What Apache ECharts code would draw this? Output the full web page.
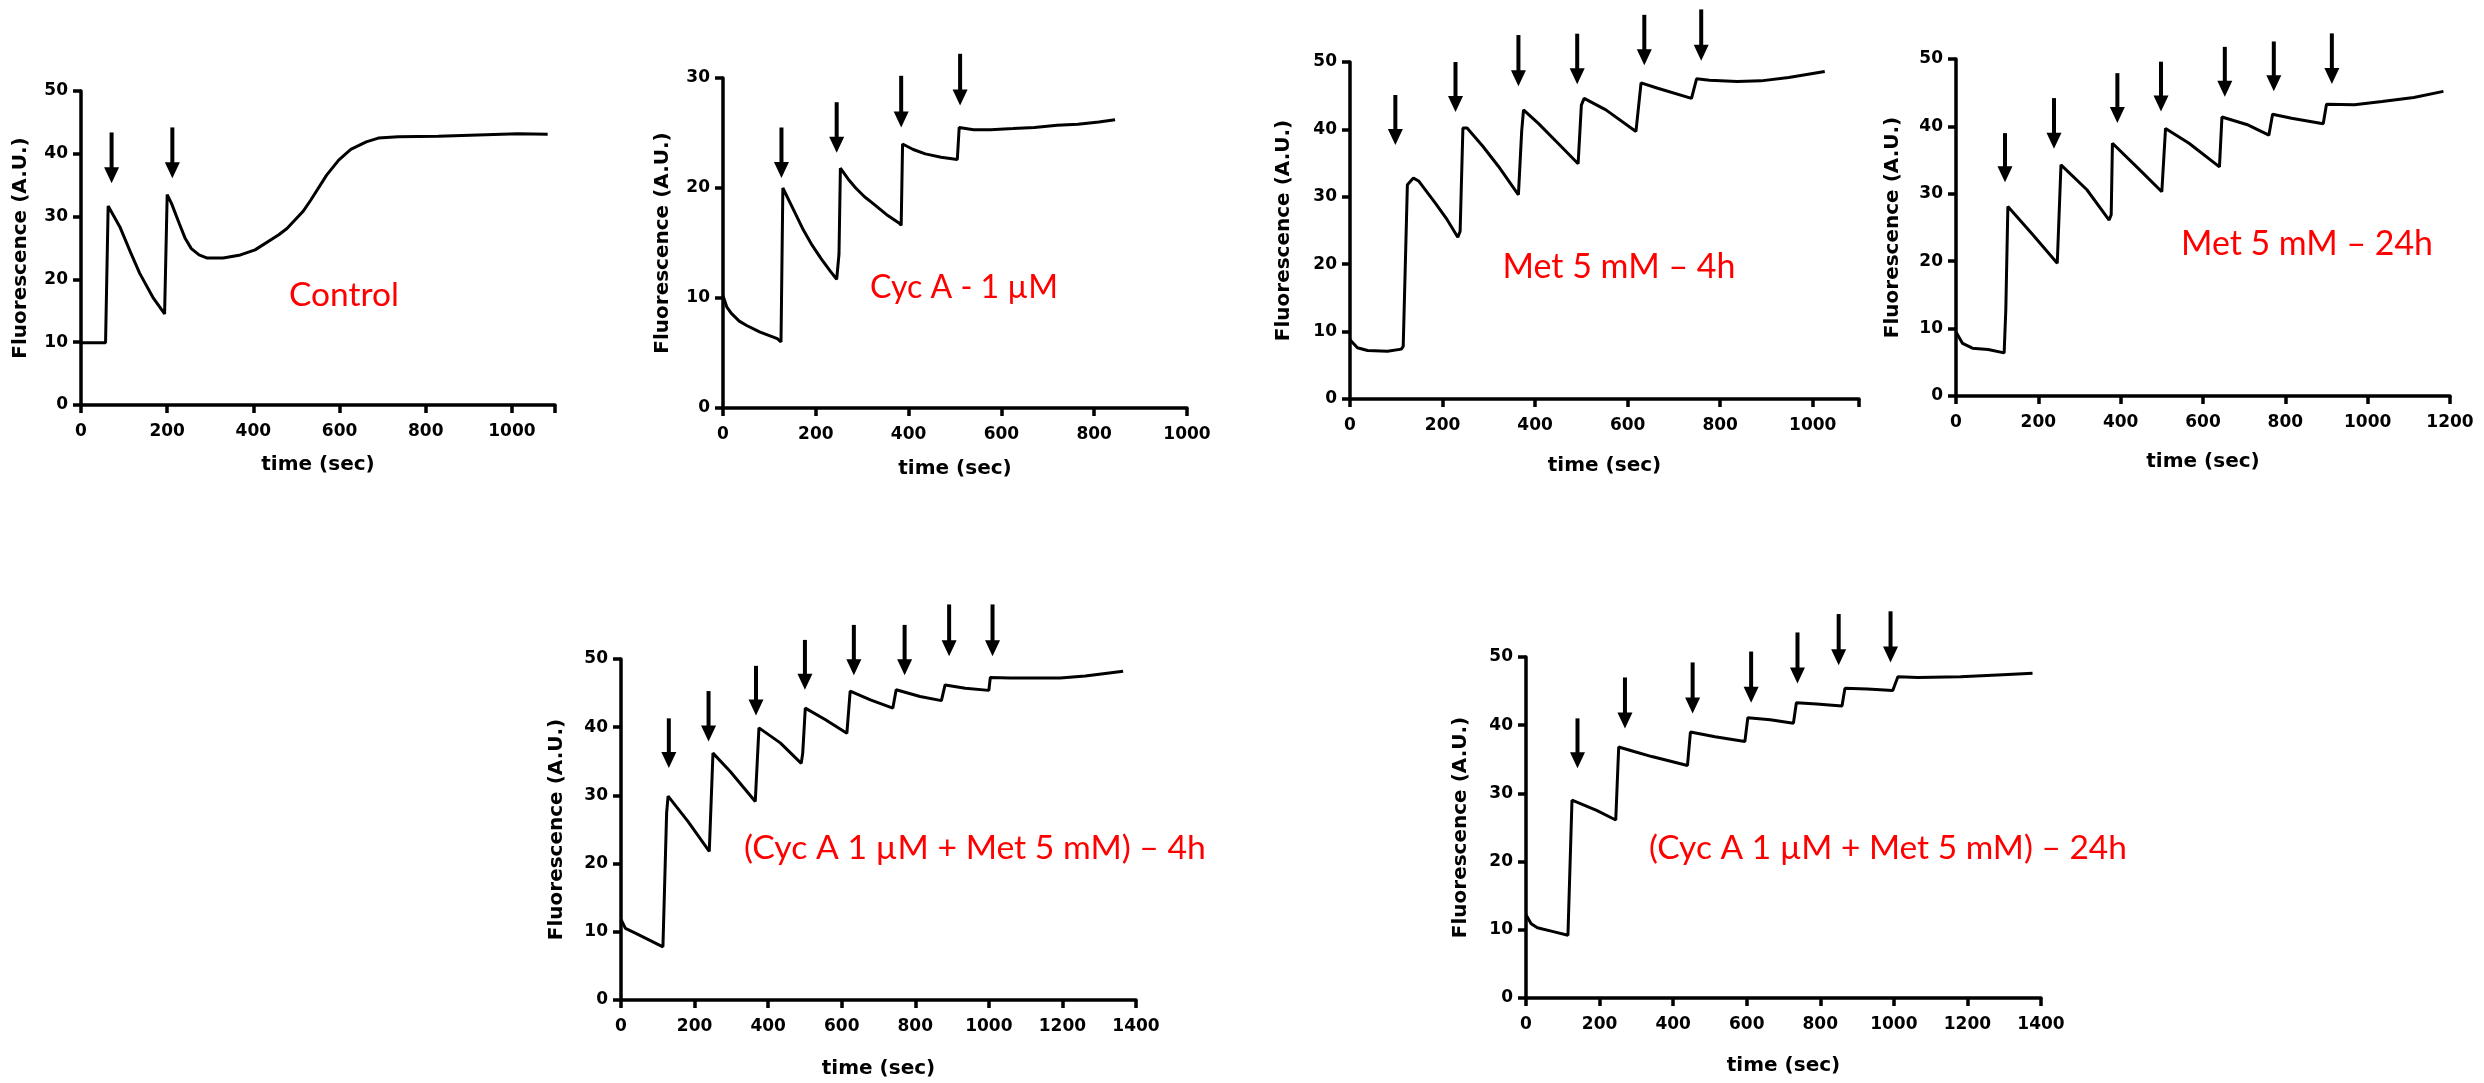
<!DOCTYPE html>
<html>
<head>
<meta charset="utf-8">
<script src="https://cdn.jsdelivr.net/npm/echarts@6/dist/echarts.min.js"></script>
<style>
html, body { margin: 0; background: #fff; }
#chart { width: 2484px; height: 1083px; }
</style>
</head>
<body>
<div id="chart"></div>
<script>
// values (time in sec, fluorescence in A.U.)
const controlTime = [0, 57, 63, 90, 115, 136, 168, 194, 200, 210, 228, 242, 256, 274, 293, 330, 370, 404, 459, 478, 515, 533, 570, 598, 626, 662, 690, 736, 829, 921, 1014, 1083]
const controlFluo = [9.9, 9.9, 31.7, 28.4, 24.3, 21.0, 17.0, 14.5, 33.5, 32.1, 28.9, 26.5, 24.9, 23.9, 23.4, 23.4, 23.9, 24.7, 27.1, 28.1, 30.8, 32.6, 36.6, 39.0, 40.7, 41.9, 42.5, 42.7, 42.8, 43.0, 43.2, 43.1]
const controlArrowTime = [71, 212]
const controlArrowTop = [43.4, 44.2]
const controlArrowTip = [35.3, 36.1]

const cycTime = [0, 8, 18, 35, 51, 80, 117, 125, 129, 150, 173, 192, 211, 232, 245, 250, 253, 270, 286, 305, 323, 352, 380, 384, 387, 410, 436, 470, 505, 509, 540, 577, 625, 671, 720, 765, 810, 845]
const cycFluo = [10.2, 9.2, 8.6, 7.9, 7.5, 6.9, 6.3, 6.0, 20.0, 18.2, 16.2, 14.8, 13.6, 12.4, 11.7, 14.0, 21.8, 20.8, 20.0, 19.2, 18.6, 17.6, 16.8, 16.6, 24.0, 23.5, 23.1, 22.8, 22.6, 25.5, 25.3, 25.3, 25.4, 25.5, 25.7, 25.8, 26.0, 26.2]
const cycArrowTime = [126, 245, 384, 511]
const cycArrowTop = [25.5, 27.8, 30.2, 32.2]
const cycArrowTip = [20.9, 23.2, 25.5, 27.5]

const met4Time = [0, 16, 38, 81, 111, 115, 124, 137, 149, 184, 210, 233, 238, 244, 253, 287, 321, 364, 371, 375, 407, 450, 493, 500, 506, 553, 618, 629, 665, 738, 749, 777, 837, 888, 948, 1026]
const met4Fluo = [8.8, 7.6, 7.2, 7.1, 7.4, 7.8, 31.8, 32.8, 32.3, 29.1, 26.6, 24.0, 24.9, 40.2, 40.2, 37.5, 34.5, 30.3, 39.7, 42.9, 40.9, 37.9, 34.9, 43.6, 44.6, 42.9, 39.7, 46.9, 46.1, 44.6, 47.5, 47.3, 47.1, 47.2, 47.7, 48.6]
const met4ArrowTime = [98, 228, 364, 491, 636, 759]
const met4ArrowTop = [45.1, 50.0, 54.0, 54.2, 57.0, 57.8]
const met4ArrowTip = [37.7, 42.6, 46.4, 46.7, 49.5, 50.2]

const met24Time = [0, 16, 40, 78, 117, 121, 126, 184, 246, 255, 318, 372, 377, 380, 442, 500, 509, 566, 640, 646, 710, 760, 769, 815, 892, 900, 968, 1035, 1112, 1184]
const met24Fluo = [9.5, 7.8, 7.1, 6.9, 6.4, 12.8, 28.1, 24.1, 19.7, 34.3, 30.6, 26.1, 26.9, 37.5, 33.8, 30.3, 39.7, 37.5, 34.0, 41.4, 40.2, 38.7, 41.8, 41.2, 40.4, 43.3, 43.2, 43.7, 44.3, 45.2]
const met24ArrowTime = [119, 238, 392, 498, 653, 772, 913]
const met24ArrowTop = [39.0, 44.2, 47.9, 49.6, 51.8, 52.6, 53.8]
const met24ArrowTip = [31.7, 36.7, 40.5, 42.2, 44.4, 45.2, 46.3]

const combo4Time = [0, 12, 39, 114, 124, 128, 182, 240, 250, 297, 365, 375, 433, 490, 494, 501, 556, 614, 623, 678, 739, 748, 813, 871, 881, 936, 1000, 1004, 1058, 1194, 1262, 1365]
const combo4Fluo = [11.8, 10.5, 9.8, 7.8, 27.4, 29.9, 26.2, 21.8, 36.2, 33.5, 29.1, 39.9, 37.7, 34.7, 36.2, 42.8, 41.1, 39.1, 45.3, 44.0, 42.8, 45.5, 44.5, 43.9, 46.2, 45.7, 45.4, 47.3, 47.2, 47.2, 47.5, 48.2]
const combo4ArrowTime = [130, 238, 367, 500, 633, 771, 892, 1010]
const combo4ArrowTop = [41.3, 45.3, 49.0, 52.8, 55.0, 55.0, 58.0, 58.0]
const combo4ArrowTip = [34.0, 37.9, 41.7, 45.5, 47.6, 47.6, 50.4, 50.4]

const combo24Time = [0, 14, 31, 77, 114, 125, 192, 244, 252, 296, 342, 439, 447, 514, 595, 603, 664, 727, 735, 790, 859, 867, 928, 997, 1011, 1066, 1181, 1296, 1377]
const combo24Fluo = [12.2, 10.9, 10.3, 9.7, 9.2, 29.0, 27.5, 26.1, 36.8, 36.1, 35.4, 34.1, 39.0, 38.3, 37.6, 41.1, 40.8, 40.3, 43.3, 43.1, 42.8, 45.4, 45.3, 45.1, 47.1, 47.0, 47.1, 47.4, 47.6]
const combo24ArrowTime = [140, 269, 453, 612, 738, 850, 991]
const combo24ArrowTop = [41.0, 47.0, 49.2, 50.8, 53.6, 56.3, 56.7]
const combo24ArrowTip = [33.7, 39.5, 41.7, 43.3, 46.1, 48.8, 49.2]

const panelLabels = ["Control", "Cyc A - 1 µM", "Met 5 mM – 4h", "Met 5 mM – 24h", "(Cyc A 1 µM + Met 5 mM) – 4h", "(Cyc A 1 µM + Met 5 mM) – 24h"]
const xMax = [1100, 1000, 1100, 1200, 1400, 1400]
const yMax = [50, 30, 50, 50, 50, 50]
const xTitle = "time (sec)"
const yTitle = "Fluorescence (A.U.)"

const panels = [
	[controlTime, controlFluo, controlArrowTime, controlArrowTop, controlArrowTip],
	[cycTime, cycFluo, cycArrowTime, cycArrowTop, cycArrowTip],
	[met4Time, met4Fluo, met4ArrowTime, met4ArrowTop, met4ArrowTip],
	[met24Time, met24Fluo, met24ArrowTime, met24ArrowTop, met24ArrowTip],
	[combo4Time, combo4Fluo, combo4ArrowTime, combo4ArrowTop, combo4ArrowTip],
	[combo24Time, combo24Fluo, combo24ArrowTime, combo24ArrowTop, combo24ArrowTip]
]

// layout (px): plot box, axis-name gaps, red label centre and width
const layout = [
	{ left: 81, top: 91, width: 474, height: 314, yGap: 50, xGap: 50, lx: 344, ly: 295, lw: 110 },
	{ left: 723, top: 78, width: 464, height: 330, yGap: 50, xGap: 51, lx: 964, ly: 288, lw: 188 },
	{ left: 1350, top: 62, width: 509, height: 337, yGap: 56, xGap: 57, lx: 1619, ly: 267, lw: 233 },
	{ left: 1956, top: 59, width: 494, height: 337, yGap: 53, xGap: 56, lx: 2307, ly: 244, lw: 252 },
	{ left: 621, top: 659, width: 515, height: 341, yGap: 54, xGap: 59, lx: 975, ly: 848, lw: 462 },
	{ left: 1526, top: 657, width: 515, height: 341, yGap: 55, xGap: 58, lx: 1888, ly: 848, lw: 478 }
]

const tickFont = { fontFamily: "DejaVu Sans", fontWeight: "bold", fontSize: 17, color: "#000" }
const nameFont = { fontFamily: "DejaVu Sans", fontWeight: "bold", fontSize: 20, color: "#000" }
const axisStroke = { color: "#000", width: 3.5 }

const measure = document.createElement("canvas").getContext("2d")
const labelFontSize = (text, target) => {
	measure.font = "40px Lato"
	return 40 * target / measure.measureText(text).width
}

const arrowItem = (params, api) => {
	const top = api.coord([api.value(0), api.value(1)])
	const tip = api.coord([api.value(0), api.value(2)])
	const headLen = 16
	const headW = 15
	return {
		type: "group",
		children: [
			{ type: "line", shape: { x1: top[0], y1: top[1], x2: tip[0], y2: tip[1] - headLen + 2 }, style: { stroke: "#000", lineWidth: 4 } },
			{ type: "polygon", shape: { points: [[tip[0] - headW / 2, tip[1] - headLen], [tip[0] + headW / 2, tip[1] - headLen], [tip[0], tip[1]]] }, style: { fill: "#000" } }
		]
	}
}

const grid = [], xAxis = [], yAxis = [], series = [], graphic = []
panels.forEach(([t, f, at, atop, atip], i) => {
	const L = layout[i]
	grid.push({ left: L.left, top: L.top, width: L.width, height: L.height, containLabel: false })
	xAxis.push({
		type: "value", gridIndex: i, min: 0, max: xMax[i], interval: 200,
		name: xTitle, nameLocation: "middle", nameGap: L.xGap, nameTextStyle: nameFont,
		axisLine: { lineStyle: axisStroke },
		axisTick: { length: 8, lineStyle: axisStroke },
		axisLabel: { ...tickFont, margin: 18, formatter: v => (v % 200 ? "" : String(v)) },
		splitLine: { show: false }
	})
	yAxis.push({
		type: "value", gridIndex: i, min: 0, max: yMax[i], interval: 10,
		name: yTitle, nameLocation: "middle", nameGap: L.yGap, nameTextStyle: nameFont,
		axisLine: { show: true, lineStyle: axisStroke },
		axisTick: { show: true, length: 8, lineStyle: axisStroke },
		axisLabel: { ...tickFont, margin: 13 },
		splitLine: { show: false }
	})
	series.push({
		type: "line", xAxisIndex: i, yAxisIndex: i,
		data: t.map((x, k) => [x, f[k]]),
		showSymbol: false, lineStyle: { color: "#000", width: 3 }, clip: false
	})
	series.push({
		type: "custom", xAxisIndex: i, yAxisIndex: i,
		data: at.map((x, k) => [x, atop[k], atip[k]]),
		encode: { x: 0, y: 1 }, renderItem: arrowItem, clip: false
	})
	graphic.push({
		type: "text", x: L.lx, y: L.ly,
		style: {
			text: panelLabels[i], fill: "#ff0000", fontFamily: "Lato",
			fontSize: labelFontSize(panelLabels[i], L.lw),
			align: "center", verticalAlign: "middle"
		}
	})
})

const myChart = echarts.init(document.getElementById("chart"))
myChart.setOption({
	backgroundColor: "#fff",
	animation: false,
	grid, xAxis, yAxis, series, graphic
})
</script>
</body>
</html>
